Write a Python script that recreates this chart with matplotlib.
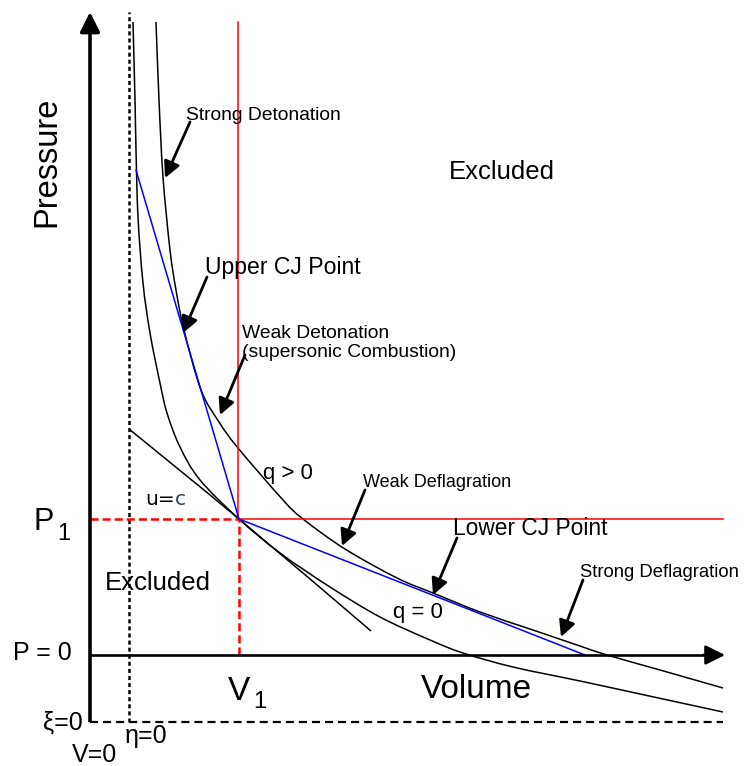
import matplotlib
matplotlib.use("Agg")
import matplotlib.pyplot as plt
from matplotlib.path import Path
from matplotlib.patches import PathPatch

plt.rcParams['font.family'] = ['Liberation Sans', 'DejaVu Sans']
plt.rcParams['lines.scale_dashes'] = False

# ---- data (volume V, pressure P) ----
V1 = 1.49
P1 = 1.36
ETA0_V = 0.39      # eta = 0 line
XI0_P = -0.67      # xi = 0 line
V_MAX = 6.33
P_MAX = 6.43

hug_q_pos_V = [0.66, 0.69, 0.73, 0.80, 0.86, 0.94, 1.11, 1.29, 1.48, 1.93, 2.13,
               2.55, 3.07, 3.43, 3.90, 4.40, 4.90, 5.17, 5.70, 6.33]
hug_q_pos_P = [6.33, 5.55, 4.78, 4.05, 3.65, 3.25, 2.65, 2.33, 2.07, 1.55, 1.36,
               1.06, 0.77, 0.62, 0.43, 0.26, 0.09, 0.00, -0.15, -0.33]

hug_q0_V = [0.43, 0.45, 0.46, 0.48, 0.53, 0.60, 0.70, 0.77, 0.90, 1.10, 1.49,
            1.90, 2.40, 2.90, 3.40, 3.73, 4.23, 4.90, 5.50, 6.33]
hug_q0_P = [6.33, 5.55, 5.05, 4.38, 3.72, 3.22, 2.72, 2.42, 2.08, 1.75, 1.36,
            1.02, 0.68, 0.38, 0.15, 0.02, -0.12, -0.26, -0.39, -0.57]

isentrope_V = [0.39, 1.49, 2.81]
isentrope_P = [2.26, 1.36, 0.24]

rayleigh_up_V = [0.46, 1.49]
rayleigh_up_P = [4.85, 1.36]
rayleigh_low_V = [1.49, 4.95]
rayleigh_low_P = [1.36, 0.00]

# annotation arrows: (label, text V, text P, size, arrow start, arrow end)
labels = [
    ("Strong Detonation", 0.96, 5.35, 13.9, (1.00, 5.33), (0.75, 4.77)),
    ("Upper CJ Point", 1.15, 3.81, 16.6, (1.17, 3.78), (0.93, 3.22)),
    ("Weak Detonation\n(supersonic Combustion)", 1.52, 2.98, 13.9, (1.55, 3.00), (1.30, 2.40)),
    ("Weak Deflagration", 2.73, 1.68, 13.0, (2.75, 1.65), (2.52, 1.09)),
    ("Lower CJ Point", 3.63, 1.20, 16.4, (3.67, 1.17), (3.43, 0.60)),
    ("Strong Deflagration", 4.90, 0.78, 13.3, (4.93, 0.75), (4.71, 0.18)),
]


def smooth_curve(ax, xs, ys, **kw):
    """Draw a smooth (Catmull-Rom style) curve through the given points."""
    pts = list(zip(xs, ys))
    n = len(pts)
    verts = [pts[0]]
    codes = [Path.MOVETO]
    for i in range(n - 1):
        p0 = pts[i - 1] if i > 0 else pts[i]
        p1 = pts[i]
        p2 = pts[i + 1]
        p3 = pts[i + 2] if i + 2 < n else pts[i + 1]
        c1 = (p1[0] + (p2[0] - p0[0]) / 6.0, p1[1] + (p2[1] - p0[1]) / 6.0)
        c2 = (p2[0] - (p3[0] - p1[0]) / 6.0, p2[1] - (p3[1] - p1[1]) / 6.0)
        verts += [c1, c2, p2]
        codes += [Path.CURVE4, Path.CURVE4, Path.CURVE4]
    ax.add_patch(PathPatch(Path(verts, codes), fill=False, **kw))


fig = plt.figure(figsize=(7.45, 7.66), dpi=100)
ax = fig.add_axes([0, 0, 1, 1])
ax.set_xlim(-0.90, 6.55)
ax.set_ylim(-1.11, 6.55)
ax.axis('off')

# dashed boundary lines
ax.plot([ETA0_V, ETA0_V], [XI0_P, P_MAX], color='black', lw=1.8, dashes=(2.9, 2.2))
ax.plot([0, V_MAX], [XI0_P, XI0_P], color='black', lw=1.6, dashes=(5.8, 3.6))

# red reference lines
ax.plot([V1 - 0.01, V1 - 0.01], [P1, 6.33], color='#FF0000', lw=1.1)
ax.plot([V1, V_MAX], [P1, P1], color='#FF0000', lw=1.1)
ax.plot([V1, V1], [0, P1], color='#FF0000', lw=1.8, dashes=(5.8, 2.9))
ax.plot([0, V1], [P1, P1], color='#FF0000', lw=1.8, dashes=(5.8, 2.9))

# curves
smooth_curve(ax, hug_q_pos_V, hug_q_pos_P, edgecolor='black', lw=1.1)
smooth_curve(ax, hug_q0_V, hug_q0_P, edgecolor='black', lw=1.1)
smooth_curve(ax, isentrope_V, isentrope_P, edgecolor='black', lw=1.1)
ax.plot(rayleigh_up_V, rayleigh_up_P, color='#0000FF', lw=1.1)
ax.plot(rayleigh_low_V, rayleigh_low_P, color='#0000FF', lw=1.1)

# axes with arrows
ax.plot([0, 0], [XI0_P, P_MAX - 0.1], color='black', lw=2.6, solid_capstyle='butt')
ax.annotate('', xy=(0, P_MAX), xytext=(0, P_MAX - 0.2),
            arrowprops=dict(arrowstyle='-|>,head_length=0.7,head_width=0.35',
                            color='black', lw=2.6, shrinkA=0, shrinkB=0, mutation_scale=17))
ax.plot([0, V_MAX - 0.1], [0, 0], color='black', lw=1.9, solid_capstyle='butt')
ax.annotate('', xy=(V_MAX + 0.02, 0), xytext=(V_MAX - 0.2, 0),
            arrowprops=dict(arrowstyle='-|>,head_length=0.7,head_width=0.35',
                            color='black', lw=1.9, shrinkA=0, shrinkB=0, mutation_scale=17))

# labelled arrows
for text, tx, ty, fs, a0, a1 in labels:
    ax.text(tx, ty, text, fontsize=fs, ha='left', va='baseline', linespacing=1.12)
    ax.annotate('', xy=a1, xytext=a0,
                arrowprops=dict(arrowstyle='-|>,head_length=0.75,head_width=0.38',
                                color='black', lw=2.0, shrinkA=0, shrinkB=0, mutation_scale=13))

# other text
ax.text(-0.43, 4.93, "Pressure", fontsize=23.5, rotation=90, ha='center', va='center')
ax.text(3.59, 4.76, "Excluded", fontsize=18.5, ha='left', va='baseline')
ax.text(0.15, 0.65, "Excluded", fontsize=18.5, ha='left', va='baseline')
ax.text(1.73, 1.76, "q > 0", fontsize=16, ha='left', va='baseline')
ax.text(3.03, 0.37, "q = 0", fontsize=16, ha='left', va='baseline')
ax.text(0.55, 1.50, "u=", fontsize=14.5, ha='left', va='baseline', family='DejaVu Sans')
ax.text(0.845, 1.50, "c", fontsize=14.5, ha='left', va='baseline', color='#33405A', family='DejaVu Sans')
ax.text(-0.57, 1.25, "P", fontsize=22, ha='left', va='baseline')
ax.text(-0.33, 1.15, "1", fontsize=17, ha='left', va='baseline')
ax.text(-0.77, -0.05, "P = 0", fontsize=18, ha='left', va='baseline')
ax.text(1.38, -0.45, "V", fontsize=24, ha='left', va='baseline')
ax.text(1.63, -0.53, "1", fontsize=17, ha='left', va='baseline')
ax.text(3.31, -0.43, "Volume", fontsize=24, ha='left', va='baseline')
ax.text(-0.47, -0.75, "ξ=0", fontsize=18, ha='left', va='baseline')
ax.text(0.35, -0.88, "η=0", fontsize=18, ha='left', va='baseline')
ax.text(-0.18, -1.07, "V=0", fontsize=18, ha='left', va='baseline')

fig.savefig("out.png", dpi=100)
